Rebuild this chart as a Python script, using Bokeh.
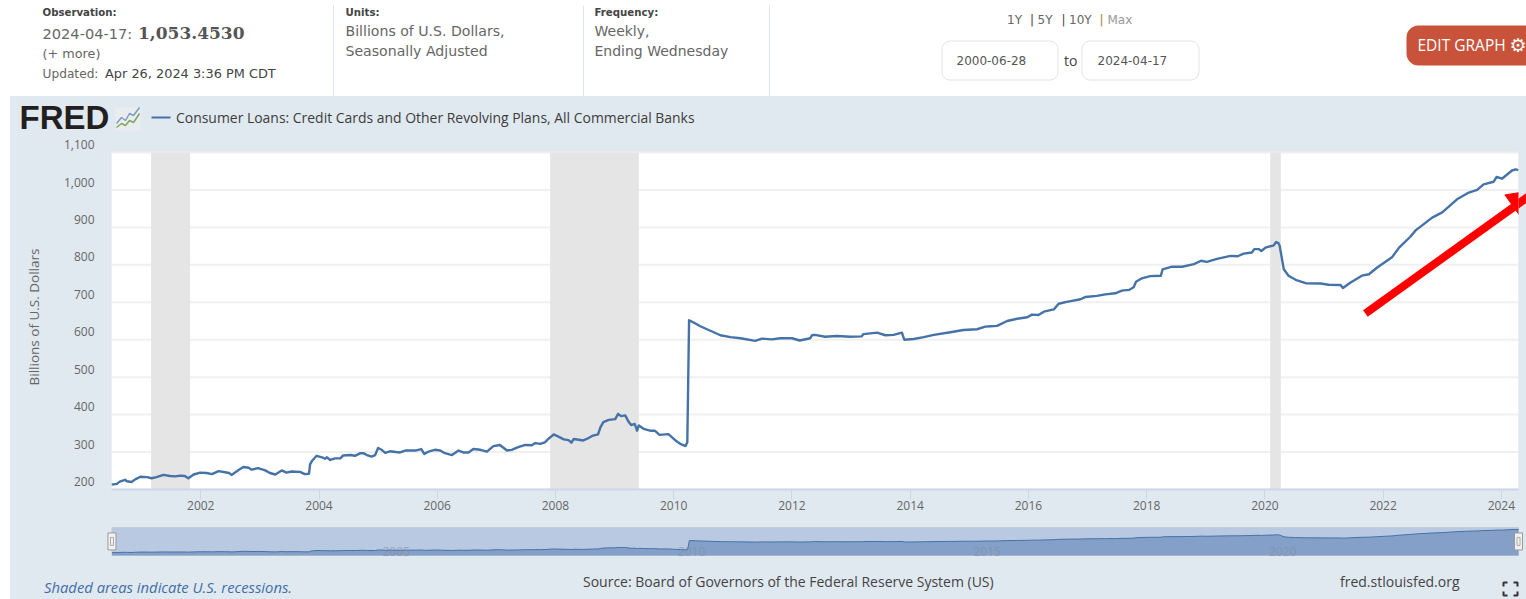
from bokeh.plotting import figure
from bokeh.layouts import column, row
from bokeh.models import (Spacer, FixedTicker, Arrow, NormalHead, NumeralTickFormatter, LinearAxis, Range1d)
from bokeh.core.properties import value
from bokeh.embed import file_html
from bokeh.resources import INLINE

# ---- data ----
obs_year = [2000.49,2000.58,2000.63,2000.72,2000.75,2000.83,2000.89,2000.98,2001.09,2001.17,2001.25,2001.37,2001.48,
 2001.57,2001.65,2001.73,2001.79,2001.88,2001.99,2002.10,2002.19,2002.30,2002.41,2002.48,2002.52,2002.64,2002.72,
 2002.81,2002.86,2002.97,2003.09,2003.17,2003.26,2003.37,2003.45,2003.54,2003.68,2003.76,2003.83,
 2003.85,2003.88,2003.96,2004.05,2004.10,2004.13,2004.19,2004.27,2004.36,2004.41,2004.53,2004.61,2004.70,2004.75,
 2004.81,2004.89,2004.95,2005.00,2005.06,2005.12,2005.20,2005.30,2005.37,2005.46,2005.54,2005.63,2005.73,2005.78,
 2005.85,2005.96,2006.05,2006.13,2006.25,2006.36,2006.44,2006.53,2006.61,2006.73,2006.84,2006.95,2007.06,2007.18,
 2007.26,2007.37,2007.49,2007.60,2007.66,2007.74,2007.82,
 2007.88,2007.97,2008.05,2008.14,2008.22,2008.27,2008.31,2008.39,2008.47,2008.53,2008.62,2008.72,2008.76,2008.81,
 2008.90,2009.01,2009.06,2009.11,2009.18,2009.24,2009.28,2009.34,2009.38,2009.41,2009.49,2009.60,2009.68,2009.76,
 2009.91,2010.03,2010.11,2010.20,2010.23,2010.26,2010.36,
 2010.45,2010.62,2010.79,2010.96,2011.13,2011.38,2011.49,2011.66,2011.80,2012.00,2012.13,2012.31,2012.34,2012.39,
 2012.56,2012.76,2012.99,2013.18,2013.21,2013.44,2013.58,2013.72,2013.86,2013.90,2014.06,2014.23,2014.40,2014.68,
 2014.90,2015.13,2015.27,
 2015.36,2015.47,2015.64,2015.81,2015.98,2016.06,2016.17,2016.26,2016.43,2016.51,2016.65,2016.88,2016.96,2017.16,
 2017.30,2017.47,2017.58,2017.70,2017.78,2017.82,2017.92,2018.06,2018.24,2018.27,2018.43,2018.60,2018.80,2018.92,
 2019.02,2019.19,2019.42,2019.54,2019.64,2019.78,2019.82,2019.90,2019.94,2020.01,2020.15,2020.19,2020.23,
 2020.25,2020.32,2020.40,2020.52,2020.69,2020.94,2021.08,2021.28,2021.32,2021.45,2021.64,2021.76,2021.90,2022.15,
 2022.27,2022.46,2022.55,2022.83,2023.00,2023.25,2023.45,2023.59,2023.70,2023.87,2023.92,2024.01,2024.18,2024.24,2024.29]
obs_value = [213,215,221,226,222,220,227,234,233,230,233,239,236,
 235,237,236,230,240,245,244,241,249,246,244,239,252,260,
 258,253,257,251,244,240,251,245,248,247,241,242,
 268,276,290,286,282,286,279,283,283,291,292,290,297,297,
 292,288,292,311,306,298,302,300,299,304,304,304,308,295,
 301,306,304,297,292,304,299,299,308,306,301,316,319,304,
 306,313,319,318,324,322,326,
 335,347,341,334,332,325,335,333,331,335,343,347,366,380,
 386,388,402,396,398,380,372,375,357,371,362,357,357,346,
 348,331,322,316,326,652,644,
 636,624,612,607,604,597,603,601,604,604,598,604,612,613,
 608,610,608,609,615,619,612,613,619,600,602,607,613,620,
 626,628,635,
 636,637,650,656,660,667,666,675,681,696,701,708,714,717,
 721,724,731,733,740,755,764,770,771,788,795,795,802,811,
 808,816,824,823,830,833,842,842,837,846,852,861,858,
 851,788,771,760,751,750,747,746,738,753,771,775,793,820,
 846,875,892,926,940,975,993,1000,1015,1022,1035,1030,1052,1055,1053]
recession_start = [2001.16, 2007.91, 2020.09]
recession_end = [2001.82, 2009.41, 2020.27]
x_ticks = [2002,2004,2006,2008,2010,2012,2014,2016,2018,2020,2022,2024]
y_ticks = [200,300,400,500,600,700,800,900,1000,1100]
nav_ticks = [2005,2010,2015,2020]
title = "Consumer Loans: Credit Cards and Other Revolving Plans, All Commercial Banks"

PANEL = "#e1e9f0"; LINE = "#4572a7"; GREY = "#666666"

def canvas(w, h, x0, y0, bg):
    f = figure(width=w, height=h, x_range=(x0, x0+w), y_range=(y0+h, y0), output_backend="svg",
               toolbar_location=None, x_axis_location=None, y_axis_location=None, min_border=0,
               background_fill_color=bg, border_fill_color=bg, outline_line_color=None, frame_align=False)
    f.grid.visible = False
    return f

def txt(f, x, y, s, size, color=GREY, font="DejaVu Sans", style="normal", align="left"):
    f.text(x=[x], y=[y], text=[s], text_font=value(font), text_font_size=f"{size}px", text_color=color,
           text_font_style=style, text_align=align, text_baseline="middle")

# ---- header ----
h = canvas(1526, 96, 0, 0, "#ffffff")
for sx in (333, 583, 769):
    h.segment(x0=[sx], y0=[5], x1=[sx], y1=[96], line_color="#dde6ee", line_width=1)
txt(h, 42, 12, "Observation:", 10.2, "#444444", style="bold")
txt(h, 42, 32.5, "2024-04-17:", 14.6, GREY)
txt(h, 137.5, 32.5, "1,053.4530", 17, "#555555", "DejaVu Serif", "bold")
txt(h, 42, 53, "(+ more)", 12.8, GREY)
txt(h, 42, 73, "Updated:", 12.2, GREY)
txt(h, 104.5, 73, "Apr 26, 2024 3:36 PM CDT", 12.9, "#444444")
txt(h, 345, 12, "Units:", 10.2, "#444444", style="bold")
txt(h, 345, 30.5, "Billions of U.S. Dollars,", 14.1, GREY)
txt(h, 345, 50.5, "Seasonally Adjusted", 14.1, GREY)
txt(h, 594, 12, "Frequency:", 10.2, "#444444", style="bold")
txt(h, 594, 30.5, "Weekly,", 14, GREY)
txt(h, 594, 50.5, "Ending Wednesday", 14, GREY)
for sx, s, c in [(1006.5,"1Y",GREY),(1029.5,"|","#444444"),(1037,"5Y",GREY),(1061,"|","#444444"),
                 (1068.5,"10Y",GREY),(1099,"|","#b07a30"),(1107,"Max","#999999")]:
    txt(h, sx, 19, s, 12, c)
h.quad(left=[941.5,1081.5], right=[1057.5,1198.5], top=[40.5,40.5], bottom=[79.5,79.5], fill_color="#ffffff",
       line_color="#e4e4e4", line_width=1, border_radius=8)
txt(h, 956, 60, "2000-06-28", 12, "#555555")
txt(h, 1063.5, 59.5, "to", 14, "#444444", "Open Sans")
txt(h, 1097, 60, "2024-04-17", 12, "#555555")
h.quad(left=[1406], right=[1560], top=[25], bottom=[65], fill_color="#c8523a", line_color=None, border_radius=12)
txt(h, 1417, 44, "EDIT GRAPH", 15.5, "#ffffff", "Open Sans")
txt(h, 1509, 44, "\u2699", 19, "#ffffff", "DejaVu Sans", "bold")

# ---- title bar ----
t = canvas(1516, 41, 10, 96, PANEL)
txt(t, 19, 117, "FRED", 33, "#231f20", "Liberation Sans", "bold")
t.quad(left=[115], right=[140], top=[107], bottom=[130], fill_color="#e9edf0", line_color=None)
t.line(x=[116,121,125,129,133,139], y=[123,117,120,113,115,107], line_color="#7f9cc0", line_width=1.5)
t.line(x=[116,121,125,129,133,139], y=[127,123,125,120,122,113], line_color="#7fa860", line_width=1.5)
t.segment(x0=[151], y0=[117], x1=[170], y1=[117], line_color=LINE, line_width=2)
txt(t, 175.5, 117, title, 13.95, "#3c3c3c", "Open Sans")

# ---- main chart ----
Y_TOP = 1121.4     # room above the 1,100 gridline for its label
LABEL_SHIFT = 21   # FRED prints value labels just above their gridlines
p = figure(width=1516, height=383, x_range=(2000.49, 2024.29), y_range=(200, Y_TOP), output_backend="svg",
           toolbar_location=None, y_axis_location=None, min_border_left=101, min_border_right=8, min_border_top=7,
           min_border_bottom=31, background_fill_color=PANEL, border_fill_color=PANEL, outline_line_color=None,
           frame_align=False)
p.extra_y_ranges = {"labels": Range1d(200 - LABEL_SHIFT, Y_TOP - LABEL_SHIFT)}
yax = LinearAxis(y_range_name="labels", ticker=FixedTicker(ticks=y_ticks), formatter=NumeralTickFormatter(format="0,0"))
yax.axis_line_color = None
yax.major_tick_line_color = None
yax.minor_tick_line_color = None
yax.major_tick_out = 0
yax.major_tick_in = 0
yax.major_label_standoff = 17
yax.major_label_text_font = "Open Sans"
yax.major_label_text_font_size = "12px"
yax.major_label_text_color = GREY
yax.axis_label = "Billions of U.S. Dollars"
yax.axis_label_text_font = "Open Sans"
yax.axis_label_text_font_style = "normal"
yax.axis_label_text_font_size = "13.5px"
yax.axis_label_text_color = GREY
yax.axis_label_standoff = 18
p.add_layout(yax, "left")
p.xgrid.visible = False
p.ygrid.visible = False
p.xaxis.ticker = FixedTicker(ticks=x_ticks)
p.xaxis.formatter = NumeralTickFormatter(format="0")
p.xaxis.axis_line_color = "#ccd6eb"
p.xaxis.axis_line_width = 2
p.xaxis.major_tick_line_color = "#ccd6eb"
p.xaxis.major_tick_line_width = 1
p.xaxis.major_tick_out = 10
p.xaxis.major_tick_in = 0
p.xaxis.minor_tick_line_color = None
p.xaxis.major_label_standoff = 1
p.xaxis.major_label_text_font = "Open Sans"
p.xaxis.major_label_text_font_size = "12px"
p.xaxis.major_label_text_color = GREY
p.quad(left=[2000.49], right=[2024.29], bottom=[200], top=[1100], fill_color="#ffffff", line_color=None)
p.segment(x0=2000.49, x1=2024.29, y0=y_ticks, y1=y_ticks, line_color="#f0f0f0", line_width=2)
p.quad(left=recession_start, right=recession_end, bottom=200, top=1100, fill_color="#e5e5e5", line_color=None)
p.line(obs_year, obs_value, line_color=LINE, line_width=2.4, line_join="round")
p.add_layout(Arrow(end=NormalHead(size=30, fill_color="#ff0000", line_color="#ff0000"),
                   x_start=2021.70, y_start=670, x_end=2024.62, y_end=1001, line_color="#ff0000", line_width=8))

# ---- navigator ----
NAV_LO, NAV_HI = -72.5, 1380
n = figure(width=1516, height=40, x_range=(1998.773, 2024.425), y_range=(NAV_LO, NAV_HI), output_backend="svg",
           toolbar_location=None, x_axis_location=None, y_axis_location=None, min_border=0,
           background_fill_color=PANEL, border_fill_color=PANEL, outline_line_color=None, frame_align=False)
n.grid.visible = False
n.quad(left=[obs_year[0]], right=[obs_year[-1]], bottom=[109], top=[1126], fill_color="#b9c9e2",
       line_color="#c6ccd6", line_width=1)
n.varea(x=obs_year, y1=[109]*len(obs_year), y2=obs_value, fill_color="#84a0c8")
n.line(obs_year, obs_value, line_color=LINE, line_width=1)
n.text(x=nav_ticks, y=[270]*4, text=[str(v) for v in nav_ticks], text_font=value("Open Sans"), text_font_size="12px",
       text_color="#7f8ba3", text_alpha=0.6, text_align="left", text_baseline="middle", x_offset=4)
n.rect(x=[obs_year[0], obs_year[-1]], y=[620,620], width=8, height=17, width_units="screen", height_units="screen",
       fill_color="#f2f2f2", line_color="#999999")
n.rect(x=[obs_year[0], obs_year[-1]], y=[620,620], width=3, height=8, width_units="screen", height_units="screen",
       fill_color=None, line_color="#aaaaaa")

# ---- footer ----
g = canvas(1516, 39, 10, 560, PANEL)
txt(g, 43.5, 586, "Shaded areas indicate U.S. recessions.", 14.8, "#3f6ea6", "Open Sans", "italic")
txt(g, 582.5, 581, "Source: Board of Governors of the Federal Reserve System (US)", 14, "#444444", "Open Sans")
txt(g, 1339.5, 581, "fred.stlouisfed.org", 14, "#444444", "Open Sans")
g.multi_line(xs=[[1503,1503,1507],[1513,1517,1517],[1503,1503,1507],[1513,1517,1517]],
             ys=[[586,582,582],[582,582,586],[591,595,595],[595,595,591]], line_color="#333333", line_width=2)

stack = column(t, p, n, g, spacing=0, styles={"background-color": PANEL})
page = column(h, row(Spacer(width=10, height=503), stack, spacing=0), spacing=0)
open("out.html", "w").write(file_html(page, INLINE))
